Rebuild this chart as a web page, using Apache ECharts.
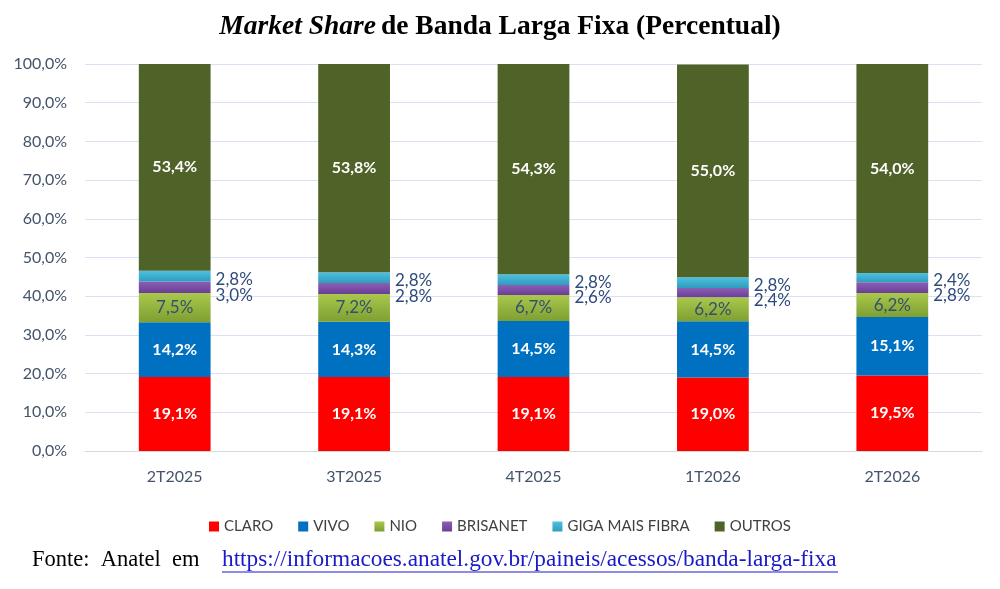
<!DOCTYPE html>
<html lang="pt-BR">
<head>
  <meta charset="UTF-8">
  <title>Market Share de Banda Larga Fixa</title>
  <style>
    html, body { margin: 0; padding: 0; background: #fff; }
    #main { width: 1000px; height: 589px; }
  </style>
</head>
<body>
  <div id="main"></div>
  <script src="https://cdn.jsdelivr.net/npm/echarts@6/dist/echarts.min.js"></script>
  <script>
    // dados (%)
    const periodos = ['2T2025', '3T2025', '4T2025', '1T2026', '2T2026']
    const claro = [19.1, 19.1, 19.1, 19.0, 19.5]
    const vivo = [14.2, 14.3, 14.5, 14.5, 15.1]
    const nio = [7.5, 7.2, 6.7, 6.2, 6.2]
    const brisanet = [3.0, 2.8, 2.6, 2.4, 2.8]
    const giga = [2.8, 2.8, 2.8, 2.8, 2.4]
    const outros = [53.4, 53.8, 54.3, 55.0, 54.0]

    const pct = v => v.toFixed(1).replace('.', ',') + '%'
    const grad = (a, b) => new echarts.graphic.LinearGradient(0, 0, 0, 1, [
      { offset: 0, color: a }, { offset: 1, color: b }
    ])

    const fontUI = 'Lato, "Open Sans", sans-serif'
    const serif = '"Liberation Serif", serif'
    const azul = '#44546A'

    function serie(nome, dados, cor, label) {
      return {
        name: nome,
        type: 'bar',
        stack: 'total',
        data: dados,
        barWidth: '40%',
        itemStyle: { color: cor },
        label: Object.assign({
          show: true,
          fontFamily: fontUI,
          formatter: p => pct(p.value)
        }, label)
      }
    }

    const dentroBranco = { position: 'inside', color: '#fff', fontWeight: 'bold', fontSize: 16 }

    const myChart = echarts.init(document.getElementById('main'))

    const option = {
      animation: false,
      title: {
        text: '{i|Market Share} {b|de Banda Larga Fixa (Percentual)}',
        left: 'center',
        top: 8,
        textStyle: {
          rich: {
            i: { fontFamily: serif, fontSize: 27.5, fontWeight: 'bold', fontStyle: 'italic', color: '#000' },
            b: { fontFamily: serif, fontSize: 27.5, fontWeight: 'bold', color: '#000' }
          }
        }
      },
      legend: {
        bottom: 50,
        left: 'center',
        itemWidth: 10,
        itemHeight: 10,
        itemGap: 25,
        icon: 'rect',
        textStyle: { fontFamily: fontUI, fontSize: 15, color: '#404040' },
        data: ['CLARO', 'VIVO', 'NIO', 'BRISANET', 'GIGA MAIS FIBRA', 'OUTROS']
      },
      grid: { left: 85, right: 18, top: 64, bottom: 138 },
      xAxis: {
        type: 'category',
        data: periodos,
        axisLine: { lineStyle: { color: '#D9D9D9' } },
        axisTick: { show: false },
        axisLabel: { color: azul, fontFamily: fontUI, fontSize: 16, margin: 18 }
      },
      yAxis: {
        type: 'value',
        min: 0,
        max: 100,
        interval: 10,
        axisLine: { show: false },
        axisTick: { show: false },
        splitLine: { lineStyle: { color: '#D9E1F2', width: 1 } },
        axisLabel: { color: azul, fontFamily: fontUI, fontSize: 16, margin: 18, formatter: v => pct(v) }
      },
      series: [
        serie('CLARO', claro, '#FF0000', dentroBranco),
        serie('VIVO', vivo, '#0070C0', dentroBranco),
        serie('NIO', nio, grad('#A9C84C', '#7E9F32'), { position: 'inside', color: '#34506E', fontSize: 17 }),
        serie('BRISANET', brisanet, grad('#8B5FB3', '#6A3E96'), { position: 'right', color: '#2F4B7C', fontSize: 17, offset: [0, 8] }),
        serie('GIGA MAIS FIBRA', giga, grad('#4FC0DE', '#2E9CC0'), { position: 'right', color: '#2F4B7C', fontSize: 17, offset: [0, 3] }),
        serie('OUTROS', outros, '#4F6228', dentroBranco)
      ],
      graphic: [
        {
          type: 'text', left: 32, top: 549,
          style: { text: 'Fonte:  Anatel  em', fontFamily: serif, fontSize: 22.5, fill: '#000' }
        },
        {
          type: 'text', left: 222, top: 548,
          style: { text: 'https://informacoes.anatel.gov.br/paineis/acessos/banda-larga-fixa', fontFamily: serif, fontSize: 23.3, fill: '#1A1AC8' }
        },
        {
          type: 'line', shape: { x1: 222, y1: 572, x2: 838, y2: 572 },
          style: { stroke: '#1A1AC8', lineWidth: 1 }
        }
      ]
    }

    myChart.setOption(option)
  </script>
</body>
</html>
